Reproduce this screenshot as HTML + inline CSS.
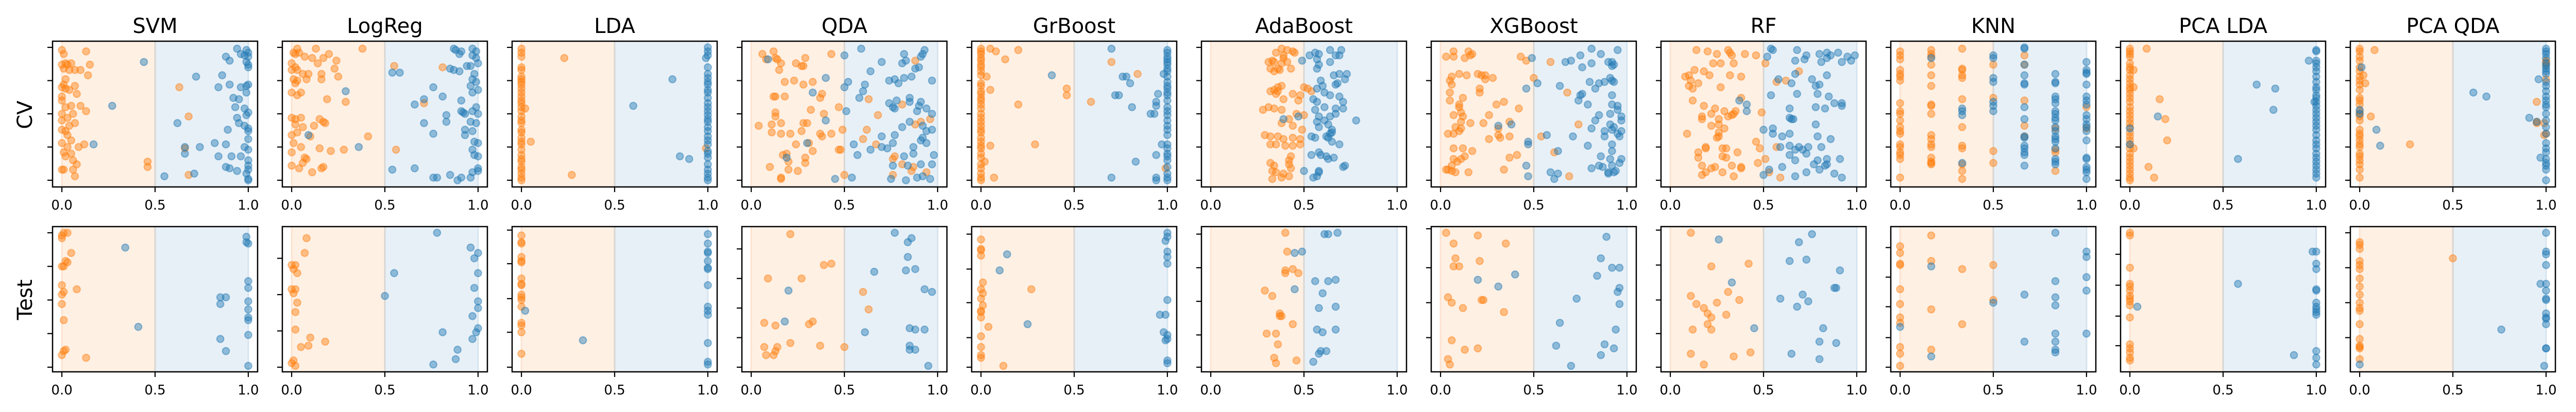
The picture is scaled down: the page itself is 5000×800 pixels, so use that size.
<!DOCTYPE html>
<html><head><meta charset="utf-8">
<style>
html,body{margin:0;padding:0;background:#fff;}
svg{display:block;}
text{font-family:"DejaVu Sans","Liberation Sans",sans-serif;fill:#000;}
</style></head>
<body>
<svg id="fig" width="5000" height="800" viewBox="0 0 5000 800" xmlns="http://www.w3.org/2000/svg">
<text x="0" y="0" font-size="40" text-anchor="middle" transform="translate(62,223) rotate(-90)">CV</text>
<text x="0" y="0" font-size="40" text-anchor="middle" transform="translate(62,582) rotate(-90)">Test</text>
</svg>
<script>
function col(x, ys){ return ys.map(function(y){ return [x, y]; }); }

const models = ["SVM","LogReg","LDA","QDA","GrBoost","AdaBoost","XGBoost","RF","KNN","PCA LDA","PCA QDA"];
const xTicks = [0, 0.5, 1.0];
const xTickLabels = ["0.0","0.5","1.0"];
const cvYTicks = [0, 0.25, 0.5, 0.75, 1];
const testYTicks = [[0,.25,.5,.75,1],[0,.27,.54,.81],[0,.26,.51,.77,1.02],[0,.22,.44,.66,.88],[0,.22,.48,.73,.99],[0,.24,.49,.74,.99],[.22,.48,.74,1.03],[0,.25,.5,.76,1.02],[0,.22,.45,.67,.89],[.16,.38,.61,.84],[.22,.48,.74,1.0]];

// ---- SVM
const svmCvO = [[0,.98],[.01,.95],[.13,.97],[0,.87],[.02,.88],[.03,.87],[.05,.88],[.15,.87],[.01,.84],[.04,.83],[.07,.83],[.1,.83],[.14,.79],[.02,.76],[.01,.72],[0,.70],[.02,.69],[.07,.71],[.08,.65],[.04,.68],[0,.63],[0,.6],[.02,.55],[.05,.56],[.1,.56],[.13,.52],[0,.5],[.06,.5],[.03,.47],[0,.45],[.07,.43],[.04,.41],[0,.38],[.02,.37],[.03,.34],[.05,.3],[0,.28],[.03,.25],[.09,.25],[.12,.27],[.01,.21],[.05,.2],[.02,.18],[.06,.15],[.08,.12],[0,.08],[.01,.08],[.06,.08],[.07,.03],[.46,.14],[.46,.10],[.63,.70],[.68,.48],[.68,.04],[.66,.24]];
const svmCvB = [[.94,.99],[.99,.98],[1,.96],[.96,.95],[.98,.94],[1,.93],[.88,.93],[.9,.90],[.44,.89],[.99,.89],[1,.87],[1,.85],[.72,.78],[.86,.79],[.84,.70],[.9,.72],[.96,.70],[1,.72],[.99,.71],[.99,.66],[.92,.62],[.95,.61],[.27,.56],[.93,.55],[.98,.54],[1,.51],[.99,.49],[.94,.47],[.62,.43],[.95,.43],[.98,.41],[1,.39],[.89,.38],[1,.37],[1,.31],[.17,.27],[.82,.28],[.88,.27],[.66,.25],[.74,.25],[.98,.25],[1,.23],[.66,.20],[.84,.18],[.91,.18],[.96,.18],[1,.15],[.88,.10],[.9,.09],[1,.11],[1,.08],[.94,.07],[.99,.05],[.71,.05],[.55,.03],[1,.01],[1,0]];
const svmTeO = [[0,.98],[.01,1],[.03,1],[0,.96],[.05,.85],[.02,.79],[.03,.78],[0,.75],[.01,.75],[0,.61],[.08,.58],[.01,.56],[0,.54],[0,.47],[.01,.35],[.01,.12],[.02,.13],[0,.09],[.13,.07]];
const svmTeB = [[.34,.89],[.99,.97],[.99,.93],[1,.92],[1,.64],[1,.59],[.85,.52],[.88,.52],[.85,.47],[1,.49],[1,.43],[1,.37],[1,.35],[.41,.30],[1,.24],[.85,.21],[.88,.12],[1,.01]];
// ---- LogReg
const lrCvO = [[.03,.99],[.13,.99],[.38,.99],[.01,.96],[.02,.95],[.04,.96],[.07,.93],[.11,.92],[.17,.92],[.2,.95],[.24,.90],[.14,.88],[0,.88],[.02,.85],[0,.83],[.03,.83],[.06,.8],[.09,.8],[.23,.84],[.16,.8],[.25,.78],[.01,.76],[.03,.75],[.08,.76],[.16,.76],[.02,.73],[0,.66],[.03,.64],[.05,.66],[.19,.61],[.29,.59],[0,.47],[.02,.46],[.05,.47],[.15,.46],[.17,.44],[.18,.43],[.12,.41],[.02,.42],[.06,.4],[0,.34],[.03,.36],[.1,.33],[.41,.33],[.01,.28],[.05,.25],[.15,.24],[.21,.22],[.28,.23],[0,.21],[.07,.17],[.08,.16],[.06,.13],[0,.11],[.04,.09],[.16,.09],[.17,.1],[.11,.06],[.55,.86],[.81,.85],[.71,.58],[.56,.23]];
const lrCvB = [[.87,.99],[.88,.98],[.97,.99],[.91,.97],[.9,.95],[.99,.97],[.97,.94],[.99,.92],[1,.88],[.96,.86],[.94,.86],[.85,.84],[.87,.83],[.9,.82],[.98,.80],[.54,.81],[.58,.81],[.97,.76],[.99,.74],[.96,.71],[1,.68],[.29,.67],[.76,.70],[.81,.63],[.71,.61],[.91,.60],[.97,.66],[.66,.57],[.99,.55],[.97,.52],[.91,.52],[.93,.5],[1,.5],[.92,.51],[.83,.49],[.83,.44],[.71,.43],[.96,.44],[.99,.43],[.93,.38],[.97,.37],[.93,.34],[.76,.35],[.09,.34],[.36,.25],[.98,.29],[1,.28],[.97,.23],[.98,.19],[1,.18],[.54,.08],[.66,.09],[.97,.06],[1,.07],[1,.09],[.76,.02],[.78,.02],[.85,.04],[.89,0],[.91,.02],[.96,.02]];
const lrTeO = [[.08,.96],[.07,.85],[0,.76],[.02,.76],[.01,.73],[.03,.70],[0,.58],[.02,.58],[.01,.55],[.03,.48],[.02,.41],[.02,.28],[.1,.22],[.18,.19],[.09,.16],[.05,.15],[.01,.05],[0,.03],[.02,.01]];
const lrTeB = [[.78,1],[.96,.89],[1,.85],[.98,.81],[.55,.70],[1,.70],[.5,.53],[.98,.59],[1,.49],[1,.44],[.97,.38],[.81,.26],[1,.29],[.99,.26],[.97,.21],[.89,.13],[.88,.06],[.76,.02]];
// ---- LDA
const ldaCvO = col(0,[.99,.96,.93,.85,.83,.78,.76,.74,.72,.69,.66,.63,.6,.58,.55,.52,.48,.45,.43,.38,.36,.32,.29,.27,.23,.19,.16,.14,.1,.08,.05,.02,0]).concat([[.23,.92],[.02,.54],[.05,.29],[.27,.04],[.99,.24]]);
const ldaCvB = col(1,[1,.97,.94,.85,.8,.77,.74,.72,.68,.66,.62,.58,.55,.52,.49,.46,.44,.4,.37,.33,.3,.27,.22,.2,.17,.12,.08,.05,.02,0]).concat([[.81,.76],[.6,.56],[.85,.18],[.9,.16],[.99,.92]]);
const ldaTeO = col(0,[.98,.93,.92,.82,.79,.78,.66,.62,.61,.54,.52,.5,.45,.33,.31,.26,.1]);
const ldaTeB = col(1,[.99,.92,.86,.85,.79,.74,.73,.61,.45,.42,.39,.18,.04,.02]).concat([[.33,.2],[.02,.42]]);
// ---- QDA
const qdaCvO = [[.06,.95],[.12,.97],[.08,.91],[.13,.92],[.14,.91],[.29,.92],[.43,.95],[.24,.88],[.27,.86],[.28,.86],[.15,.83],[.16,.88],[.23,.75],[.18,.74],[.28,.72],[.33,.74],[.12,.63],[.13,.63],[.18,.63],[.37,.62],[.38,.65],[.47,.55],[.13,.51],[.13,.48],[.32,.53],[.39,.5],[.04,.41],[.11,.42],[.16,.43],[.28,.43],[.3,.43],[.49,.38],[.11,.36],[.16,.35],[.21,.35],[.27,.37],[.37,.35],[.43,.35],[.38,.33],[.24,.27],[.31,.28],[.47,.23],[.48,.23],[.17,.19],[.19,.2],[.29,.17],[.33,.22],[.2,.14],[.29,.13],[.1,.1],[.2,.08],[.25,.07],[.16,.02],[.16,.01],[.5,.04],[.63,.61],[.68,.49],[.62,.38],[.6,.31],[.67,.27],[.81,.57],[.88,.42],[.91,.44],[.96,.46],[.77,.18],[.76,.16],[.81,.12],[.86,.07],[.94,.06],[.87,.1],[.76,.04],[.88,.9]];
const qdaCvB = [[.59,.99],[.5,.94],[.09,.91],[.7,.89],[.82,.95],[.93,.98],[.92,.95],[.91,.93],[.81,.88],[.83,.9],[.9,.85],[.88,.84],[.64,.82],[.4,.77],[.52,.74],[.5,.70],[.61,.72],[.6,.67],[.74,.75],[.77,.76],[.82,.77],[.86,.78],[.97,.75],[.79,.73],[.33,.66],[.58,.62],[.78,.60],[.85,.62],[.85,.59],[.74,.58],[.76,.55],[.77,.54],[.91,.59],[.9,.56],[.89,.52],[.94,.54],[.51,.52],[.97,.5],[.4,.45],[.85,.44],[.81,.40],[.92,.41],[.97,.38],[.94,.37],[.7,.33],[.77,.34],[.3,.28],[.64,.23],[.7,.25],[.73,.24],[.76,.28],[.87,.25],[.91,.3],[.92,.32],[.94,.28],[.19,.17],[.57,.19],[.82,.18],[.87,.2],[.98,.19],[.76,.11],[.84,.11],[.91,.12],[.97,.12],[.45,.01],[.54,.02],[.75,.01],[.83,0],[.89,.02],[.92,.03],[.96,.01],[.55,.27]];
const qdaTeO = [[.21,.99],[.43,.77],[.39,.76],[.09,.66],[.27,.66],[.6,.56],[.63,.43],[.07,.33],[.13,.31],[.31,.32],[.33,.34],[.07,.15],[.14,.15],[.13,.12],[.21,.18],[.37,.16],[.5,.15],[.08,.09],[.12,.09]];
const qdaTeB = [[.77,1],[.86,.96],[.84,.93],[.84,.82],[.66,.71],[.83,.72],[.88,.73],[.2,.57],[.93,.58],[.97,.56],[.18,.34],[.61,.26],[.85,.29],[.88,.28],[.93,.28],[.85,.16],[.85,.13],[.88,.13],[.95,.01]];
// ---- GrBoost
const gbCvO = col(0,[.99,.97,.95,.92,.9,.87,.85,.82,.79,.73,.71,.67,.65,.62,.6,.57,.54,.5,.47,.44,.41,.38,.36,.32,.29,.26,.24,.2,.17,.12,.09,.05,.02,0]).concat([[.05,.99],[.08,.97],[.2,.98],[.13,.91],[.03,.78],[.05,.68],[.46,.69],[.46,.64],[.2,.57],[.59,.59],[.05,.26],[.29,.27],[.02,.14],[.07,.02],[.7,.89],[.84,.8],[.99,.09]]);
const gbCvB = col(1,[.98,.96,.93,.91,.89,.87,.84,.82,.78,.74,.71,.69,.66,.64,.6,.55,.52,.49,.45,.41,.38,.34,.27,.24,.2,.18,.15,.1,.05,.02,0]).concat([[.7,.99],[.38,.79],[.76,.78],[.78,.78],[.8,.73],[.72,.64],[.74,.64],[.95,.65],[.94,.59],[.94,.56],[.81,.55],[.93,.5],[.91,.5],[.97,.27],[.94,.19],[.83,.14],[.7,.02],[.94,0],[.94,.02],[.98,.8]]);
const gbTeO = [[0,.95],[0,.88],[0,.87],[0,.83],[.01,.63],[0,.58],[.01,.55],[0,.51],[.01,.46],[0,.42],[0,.41],[0,.37],[.04,.3],[0,.23],[0,.15],[0,.09],[0,.07],[.12,.01],[.27,.58]];
const gbTeB = [[1,1],[1,.97],[.99,.94],[1,.86],[1,.82],[1,.77],[.14,.84],[.1,.72],[1,.5],[.96,.39],[.99,.39],[.25,.32],[.98,.26],[1,.24],[1,.21],[.99,.2],[1,.05],[1,.03]];
// ---- AdaBoost
const adaCvO = [[.38,.99],[.41,.98],[.44,.97],[.45,.96],[.35,.96],[.39,.94],[.39,.92],[.33,.90],[.31,.89],[.34,.89],[.38,.88],[.41,.89],[.32,.84],[.36,.84],[.43,.84],[.37,.83],[.34,.82],[.36,.7],[.38,.71],[.34,.68],[.32,.67],[.36,.67],[.35,.65],[.44,.65],[.48,.64],[.54,.67],[.5,.70],[.52,.69],[.39,.61],[.47,.60],[.28,.53],[.31,.55],[.34,.54],[.38,.53],[.46,.50],[.5,.49],[.42,.46],[.38,.43],[.44,.41],[.49,.38],[.29,.34],[.32,.33],[.36,.33],[.39,.31],[.44,.32],[.48,.31],[.32,.27],[.35,.27],[.4,.26],[.44,.26],[.48,.27],[.43,.18],[.42,.15],[.32,.13],[.34,.11],[.42,.12],[.43,.09],[.33,.07],[.35,.06],[.39,.05],[.42,.03],[.38,.02],[.33,.01]];
const adaCvB = [[.64,.98],[.7,.98],[.56,.96],[.53,.94],[.58,.95],[.67,.94],[.69,.94],[.57,.91],[.49,.90],[.64,.89],[.58,.87],[.57,.84],[.69,.80],[.73,.80],[.66,.79],[.72,.76],[.59,.75],[.67,.72],[.68,.73],[.6,.71],[.57,.69],[.61,.66],[.64,.64],[.55,.61],[.57,.59],[.69,.63],[.71,.59],[.61,.55],[.67,.54],[.56,.53],[.71,.54],[.67,.50],[.58,.48],[.64,.48],[.78,.45],[.57,.44],[.61,.45],[.58,.40],[.63,.42],[.65,.38],[.64,.35],[.62,.33],[.54,.33],[.56,.32],[.63,.32],[.65,.36],[.65,.29],[.69,.27],[.58,.21],[.54,.19],[.59,.19],[.62,.18],[.63,.16],[.66,.17],[.72,.11],[.71,.10],[.58,.07],[.58,.06],[.50,.07],[.55,.02],[.57,.03],[.39,.46],[.47,.48]];
const adaTeO = [[.4,1],[.41,.86],[.44,.73],[.4,.72],[.4,.70],[.47,.70],[.29,.57],[.33,.53],[.37,.4],[.37,.38],[.38,.38],[.44,.32],[.3,.25],[.35,.25],[.36,.17],[.34,.07],[.46,.05],[.35,.03]];
const adaTeB = [[.61,.99],[.63,.99],[.68,1],[.45,.85],[.49,.86],[.56,.64],[.63,.64],[.67,.65],[.45,.58],[.6,.55],[.67,.45],[.58,.44],[.57,.28],[.6,.26],[.67,.28],[.59,.12],[.62,.12],[.58,.10],[.55,.04]];
// ---- XGBoost
const xgbCvO = [[.07,.97],[.15,.97],[.17,.95],[.16,.94],[.03,.93],[.07,.93],[.13,.92],[.43,.93],[.46,.90],[.59,.89],[.1,.80],[.14,.79],[.2,.80],[.22,.79],[.24,.79],[.06,.78],[.28,.77],[.24,.76],[.05,.75],[.06,.72],[.21,.69],[.05,.66],[.12,.62],[.21,.66],[.5,.77],[.68,.66],[.05,.60],[.34,.59],[.3,.57],[.1,.57],[.42,.54],[.1,.55],[.11,.51],[.26,.49],[.07,.49],[.12,.48],[.11,.44],[.23,.43],[.16,.43],[.37,.44],[.08,.40],[.11,.39],[.04,.35],[.1,.37],[.07,.35],[.26,.31],[.31,.34],[.32,.32],[.37,.33],[.54,.33],[.31,.39],[.07,.24],[.12,.24],[.17,.22],[.13,.18],[.11,.16],[.07,.16],[.09,.14],[.04,.08],[.06,.07],[.03,.08],[.08,.06],[.15,.06],[.34,.08],[.37,.17],[.41,.19],[.61,.21],[.69,.03],[.74,.42],[.06,.11]];
const xgbCvB = [[.81,.99],[.95,.98],[.86,.95],[.75,.94],[.49,.92],[.67,.89],[.7,.90],[.81,.88],[.92,.89],[.93,.87],[.9,.89],[.76,.85],[.92,.86],[.52,.73],[.64,.71],[.8,.74],[.85,.73],[.88,.74],[.92,.75],[.93,.74],[.91,.77],[.83,.69],[.46,.69],[.76,.65],[.75,.64],[.74,.60],[.92,.64],[.79,.57],[.92,.57],[.95,.56],[.95,.53],[.85,.49],[.91,.50],[.97,.48],[.83,.45],[.97,.45],[.91,.42],[.31,.41],[.38,.42],[.81,.39],[.93,.40],[.92,.38],[.88,.37],[.97,.37],[.57,.34],[.71,.33],[.88,.33],[.95,.35],[.96,.33],[.47,.29],[.47,.27],[.79,.26],[.92,.27],[.63,.22],[.92,.22],[.86,.18],[.91,.16],[.97,.16],[.46,.11],[.85,.11],[.92,.11],[.96,.13],[.9,.06],[.9,.05],[.94,.07],[.59,.06],[.63,.05],[.47,.03],[.61,.01],[.81,.09],[.93,.06],[.87,.10]];
const xgbTeO = [[.03,1],[.2,.98],[.35,.92],[.07,.92],[.08,.81],[.21,.79],[.07,.75],[.1,.75],[.04,.52],[.06,.48],[.23,.50],[.22,.50],[.12,.44],[.34,.41],[.06,.2],[.13,.13],[.2,.14],[.04,.06],[.05,.02]];
const xgbTeB = [[.89,.97],[.86,.81],[.92,.74],[.96,.74],[.84,.68],[.4,.69],[.2,.65],[.31,.60],[.96,.59],[.95,.56],[.73,.51],[.96,.47],[.64,.33],[.94,.28],[.62,.16],[.88,.17],[.93,.14],[.86,.09],[.7,.01]];
// ---- RF
const rfCvO = [[.14,.98],[.2,.97],[.25,.95],[.31,.98],[.32,.96],[.4,.95],[.46,.94],[.33,.94],[.27,.88],[.34,.88],[.51,.88],[.13,.83],[.1,.79],[.18,.82],[.21,.79],[.32,.79],[.38,.78],[.08,.78],[.11,.75],[.15,.73],[.1,.71],[.27,.70],[.12,.69],[.57,.74],[.69,.82],[.38,.62],[.12,.60],[.18,.56],[.24,.54],[.35,.52],[.34,.50],[.29,.52],[.17,.48],[.22,.50],[.17,.46],[.26,.46],[.31,.48],[.33,.49],[.49,.51],[.22,.41],[.29,.39],[.26,.42],[.09,.35],[.26,.36],[.26,.33],[.25,.32],[.46,.29],[.15,.21],[.19,.24],[.19,.25],[.28,.24],[.3,.24],[.36,.21],[.15,.17],[.28,.18],[.3,.17],[.48,.24],[.51,.16],[.57,.25],[.17,.11],[.24,.10],[.33,.11],[.38,.10],[.47,.13],[.19,.06],[.22,.09],[.28,.06],[.17,.04],[.34,.03],[.59,.02],[.38,.09],[.53,.06],[.62,.75],[.23,.88]];
const rfCvB = [[.54,.99],[.55,.98],[.68,.98],[.84,.96],[.9,.96],[.8,.95],[.86,.94],[.73,.94],[.95,.93],[.99,.94],[.52,.93],[.67,.90],[.72,.91],[.81,.89],[.84,.92],[.97,.90],[.92,.89],[.58,.76],[.84,.79],[.67,.80],[.76,.76],[.65,.73],[.78,.71],[.8,.72],[.54,.64],[.68,.65],[.79,.65],[.85,.63],[.37,.60],[.41,.57],[.41,.52],[.64,.54],[.78,.55],[.83,.54],[.88,.58],[.92,.56],[.92,.58],[.64,.47],[.66,.46],[.65,.46],[.78,.42],[.5,.38],[.55,.39],[.55,.35],[.6,.33],[.64,.35],[.79,.33],[.86,.31],[.59,.25],[.64,.26],[.67,.23],[.69,.25],[.71,.23],[.74,.25],[.81,.25],[.64,.19],[.73,.20],[.67,.15],[.79,.15],[.84,.16],[.91,.16],[.6,.10],[.77,.12],[.83,.11],[.84,.12],[.5,.04],[.53,.08],[.73,.06],[.8,.08],[.88,.05],[.92,.02],[.67,.03]];
const rfTeO = [[.11,1],[.42,.77],[.22,.75],[.11,.53],[.31,.56],[.37,.50],[.14,.47],[.18,.44],[.25,.48],[.2,.40],[.22,.37],[.3,.39],[.2,.32],[.12,.28],[.22,.28],[.11,.10],[.34,.08],[.43,.11],[.18,.02]];
const rfTeB = [[.26,.95],[.76,.99],[.69,.93],[.64,.79],[.73,.80],[.91,.72],[.33,.63],[.88,.59],[.89,.59],[.71,.54],[.59,.51],[.74,.49],[.68,.45],[.45,.29],[.82,.29],[.8,.19],[.89,.18],[.65,.10],[.8,.06]];
// ---- KNN
const knnCvO = col(0,[.97,.94,.91,.83,.80,.78,.75,.58,.52,.50,.45,.40,.37,.35,.27,.25,.21,.19,.16,.02]).concat(col(.167,[.98,.95,.93,.87,.79,.71,.57,.56,.50,.34,.31,.27,.25,.17,.14,.13,.12]),col(.333,[.99,.84,.83,.79,.77,.61,.40,.26,.24,.12,.07,.01]),col(.5,[.87,.62,.22,.13]),col(.667,[.94,.87,.60,.41,.33]),col(.833,[.39,.23,.21,.07]),col(1,[.55,.39]));
const knnCvB = col(.167,[.92]).concat(col(.333,[.54,.52,.49,.13]),col(.5,[.94,.92,.77,.74,.59,.56,.52]),col(.667,[1,.99,.87,.79,.73,.72,.55,.46,.33,.32,.26,.24,.21,.19,.11]),col(.833,[.80,.74,.73,.63,.61,.58,.52,.50,.47,.45,.40,.37,.33,.31,.29,.24,.16,.14,.12]),col(1,[.89,.83,.81,.80,.72,.63,.60,.57,.49,.46,.42,.40,.37,.30,.17,.16,.10,.08,.06,.01]));
const knnTeO = col(0,[.90,.85,.77,.76,.58,.47,.37,.33,.15,.10,.01]).concat(col(.167,[.98,.79,.43,.13]),col(.333,[.73,.32]),col(.5,[.76,.50]));
const knnTeB = [[.167,.75],[.167,.08],[0,.30],[.5,.48],[.667,.54],[.667,.19],[.833,1],[.833,.64],[.833,.52],[.833,.46],[.833,.25],[.833,.19],[.833,.13],[.833,.11],[1,.86],[1,.82],[1,.67],[1,.57],[1,.25]];
// ---- PCA LDA
const plCvO = col(0,[.99,.97,.95,.93,.88,.85,.83,.79,.76,.73,.70,.68,.65,.62,.59,.55,.52,.49,.46,.43,.40,.36,.33,.30,.27,.24,.20,.17,.14,.11,.08,.05,.02,0]).concat([[.09,.99],[.02,.83],[.02,.70],[.16,.61],[.19,.46],[.2,.30],[.02,.24],[.1,.10],[.13,.02]]);
const plCvB = col(1,[.98,.97,.9,.88,.85,.82,.78,.74,.70,.68,.64,.62,.59,.56,.53,.50,.47,.44,.41,.38,.34,.3,.27,.24,.2,.17,.14,.11,.08,.05,.02]).concat([[.96,.90],[.68,.72],[.78,.69],[.77,.53],[.15,.48],[.58,.16],[0,.39],[0,.27],[.99,.59]]);
const plTeO = col(0,[1,.98,.74,.62,.6,.57,.53,.51,.49,.46,.37,.17,.14,.11,.07,.05]);
const plTeB = [[.98,.86],[1,.86],[1,.77],[1,.73],[1,.58],[1,.57],[.58,.62],[.04,.45],[1,.48],[1,.45],[1,.43],[1,.41],[1,.39],[.88,.09],[1,.12],[1,.07],[1,.02]];
// ---- PCA QDA
const pqCvO = col(0,[.99,.97,.93,.9,.85,.82,.78,.75,.72,.68,.62,.60,.57,.52,.50,.48,.45,.38,.35,.33,.30,.27,.25,.20,.18,.15,.12,.08,.02]).concat([[.08,.98],[.02,.79],[.06,.48],[.27,.27],[.95,.59],[.95,.43],[.99,.43],[.95,.44],[1,.76],[1,.87],[1,.89],[1,.90],[.99,.34],[1,.35],[.03,.73]]);
const pqCvB = col(1,[.99,.97,.95,.92,.88,.86,.84,.82,.80,.74,.71,.67,.63,.60,.57,.55,.50,.45,.40,.35,.28,.24,.21,.16,.13,.11,.08,0]).concat([[.01,.85],[.96,.76],[.61,.66],[.68,.63],[.91,.47],[.95,.44],[.09,.38],[.11,.26],[.97,.17],[0,.53],[0,.5]]);
const pqTeO = col(0,[.93,.91,.88,.79,.76,.73,.66,.60,.54,.48,.44,.42,.32,.21,.16,.15,.14,.06]).concat([[.5,.81]]);
const pqTeB = [[1,1],[1,.86],[1,.84],[1,.76],[.97,.62],[1,.62],[1,.57],[1,.51],[1,.50],[1,.40],[1,.37],[1,.36],[1,.32],[.76,.28],[1,.14],[1,.14],[.99,.01],[0,.02]];

const cvOrange = [svmCvO,lrCvO,ldaCvO,qdaCvO,gbCvO,adaCvO,xgbCvO,rfCvO,knnCvO,plCvO,pqCvO];
const cvBlue = [svmCvB,lrCvB,ldaCvB,qdaCvB,gbCvB,adaCvB,xgbCvB,rfCvB,knnCvB,plCvB,pqCvB];
const testOrange = [svmTeO,lrTeO,ldaTeO,qdaTeO,gbTeO,adaTeO,xgbTeO,rfTeO,knnTeO,plTeO,pqTeO];
const testBlue = [svmTeB,lrTeB,ldaTeB,qdaTeB,gbTeB,adaTeB,xgbTeB,rfTeB,knnTeB,plTeB,pqTeB];

const NS = "http://www.w3.org/2000/svg";
const svg = document.getElementById("fig");
function mk(tag, attrs, parent){ const e=document.createElementNS(NS,tag); for(const k in attrs) e.setAttribute(k,attrs[k]); (parent||svg).appendChild(e); return e; }

const axW = 398, left0 = 102, gap = 446;
const rows = [{top:80,h:283,y0:350,y1:92,label:"cv"},{top:440,h:282,y0:713,y1:452,label:"test"}];
const ORANGE = "#ff7f0e", BLUE = "#1f77b4";

models.forEach(function(name, i){
  const L = left0 + i*gap;
  const xs = function(v){ return L + axW*(v+0.05)/1.1; };
  const t = mk("text",{x:L+axW/2,y:64,"font-size":40,"text-anchor":"middle"});
  t.textContent = name;
  
  
  rows.forEach(function(r, ri){
    const ys = function(v){ return r.y0 + (r.y1 - r.y0)*v; };
    const g = mk("g",{});
    
    
    const oBand = mk("rect",{x:xs(0),y:r.top,width:xs(0.5)-xs(0),height:r.h,fill:"#fff0e4"},g);
    
    
    const bBand = mk("rect",{x:xs(0.5),y:r.top,width:xs(1)-xs(0.5),height:r.h,fill:"#e8f0f7"},g);
    
    
    mk("line",{x1:xs(0),x2:xs(0),y1:r.top,y2:r.top+r.h,stroke:"#fde3cf","stroke-width":3},g);
    mk("line",{x1:xs(0.5),x2:xs(0.5),y1:r.top,y2:r.top+r.h,stroke:"#d8d6d2","stroke-width":3},g);
    mk("line",{x1:xs(1),x2:xs(1),y1:r.top,y2:r.top+r.h,stroke:"#d6e4ef","stroke-width":3},g);
    const sets = ri===0 ? [[cvOrange[i],ORANGE,'orange-point'],[cvBlue[i],BLUE,'blue-point']] : [[testOrange[i],ORANGE,'orange-point'],[testBlue[i],BLUE,'blue-point']];
    sets.forEach(function(s){
      s[0].forEach(function(p){
        const c = mk("circle",{cx:xs(p[0]),cy:ys(p[1]),r:6.8,fill:s[1],"fill-opacity":0.45,stroke:s[1],"stroke-opacity":0.45,"stroke-width":2.2},g);
        
        
      });
    });
    const frame = mk("rect",{x:L,y:r.top,width:axW,height:r.h,fill:"none",stroke:"#000","stroke-width":2.5},g);
    
    
    const yt = ri===0 ? cvYTicks : testYTicks[i];
    yt.forEach(function(v){
      mk("line",{x1:L-10,x2:L,y1:ys(v),y2:ys(v),stroke:"#000","stroke-width":2.2},g);
    });
    const bot = r.top + r.h;
    xTicks.forEach(function(v, k){
      mk("line",{x1:xs(v),x2:xs(v),y1:bot,y2:bot+10,stroke:"#000","stroke-width":2.2},g);
      const tl = mk("text",{x:xs(v),y:bot+44,"font-size":26,"text-anchor":"middle"},g);
      tl.textContent = xTickLabels[k];
      
      
    });
  });
});
</script>
</body></html>
